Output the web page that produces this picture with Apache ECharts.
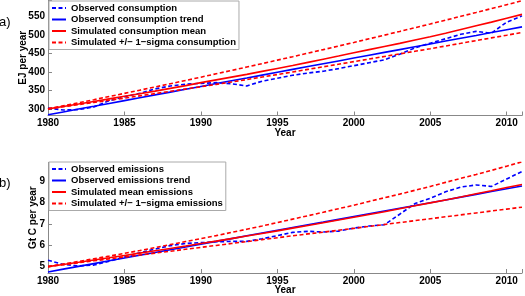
<!DOCTYPE html>
<html><head><meta charset="utf-8">
<script src="https://cdn.jsdelivr.net/npm/echarts@6/dist/echarts.min.js"></script>
<style>html,body{margin:0;padding:0;background:#fff}#c{width:525px;height:296px}</style>
</head><body><div id="c"></div>
<script>
const years = [1980,1981,1982,1983,1984,1985,1986,1987,1988,1989,1990,1991,1992,1993,1994,1995,1996,1997,1998,1999,2000,2001,2002,2003,2004,2005,2006,2007,2008,2009,2010,2011];
const xTicks = [1980,1985,1990,1995,2000,2005,2010];
const consTicks = [300,350,400,450,500,550];
const emisTicks = [5,6,7,8,9];

// a) energy consumption, EJ per year
const obsCons   = [302,297,298,305,322,333,342,354,362,367,369,371,368,362,375,383,391,397,402,409,417,425,433,448,465,478,490,502,510,505,535,552];
const trendCons = [284,291.7,299.4,307,314.7,322.4,330.1,337.8,345.4,353.1,360.8,368.5,376.2,383.8,391.5,399.2,406.9,414.6,422.2,429.9,437.6,445.3,453,460.6,468.3,476,483.7,491.4,499,506.7,514.4,522.1];
const simCons   = [300,306.5,313,320,327,334,341,348,355.5,363,371,378.5,386,393.5,401.5,409.5,417.5,426,434.5,443,452,460.5,469,477.5,486.5,495.5,505,515,525,535,545.5,556];
const simConsHi = [300,308.2,316.5,324.9,333.4,341.9,350.6,359.3,368.1,376.9,385.9,395,404.1,413.3,422.6,432,441.4,451,460.5,470.2,480,489.9,499.8,509.8,519.9,530.1,540.4,550.8,561.2,571.7,582.3,593];
const simConsLo = [300,305.8,311.6,317.4,323.2,329,335.2,341.4,347.6,353.8,360,366.4,372.8,379.4,386.2,393,400,407,414,421,428,435,442,449,456,463,470.3,477.6,485,492.3,499.6,507];

// b) emissions, Gt C per year
const obsEmis   = [5.3,5.1,5.03,5.07,5.25,5.45,5.65,5.82,5.98,6.08,6.12,6.16,6.18,6.18,6.3,6.45,6.6,6.65,6.62,6.66,6.8,6.9,6.96,7.45,7.95,8.2,8.5,8.72,8.82,8.75,9.1,9.45];
const trendEmis = [4.75,4.88,5.01,5.14,5.27,5.4,5.53,5.66,5.79,5.92,6.05,6.18,6.31,6.44,6.57,6.7,6.83,6.96,7.08,7.21,7.34,7.47,7.6,7.73,7.86,7.99,8.12,8.25,8.38,8.51,8.64,8.77];
const simEmis   = [5,5.1,5.2,5.31,5.41,5.52,5.63,5.74,5.85,5.96,6.08,6.19,6.31,6.43,6.55,6.67,6.8,6.92,7.05,7.18,7.31,7.44,7.57,7.71,7.85,7.98,8.12,8.26,8.41,8.55,8.7,8.84];
const simEmisHi = [5,5.12,5.24,5.365,5.49,5.62,5.75,5.89,6.03,6.17,6.31,6.45,6.6,6.75,6.9,7.06,7.22,7.38,7.54,7.71,7.87,8.05,8.22,8.39,8.57,8.75,8.94,9.13,9.31,9.5,9.7,9.9];
const simEmisLo = [5,5.09,5.18,5.27,5.36,5.45,5.54,5.63,5.72,5.81,5.9,5.99,6.08,6.17,6.26,6.35,6.44,6.53,6.61,6.7,6.79,6.88,6.97,7.06,7.15,7.24,7.33,7.42,7.51,7.6,7.69,7.78];

const FONT = "'Liberation Sans', Arial, sans-serif";
const BLUE = '#0000ff', RED = '#ff0000';
const pairs = arr => years.map((y,i)=>[y,arr[i]]);
const onTicks = list => v => list.some(t=>Math.abs(t-v)<1e-6) ? String(v) : '';

function xAxis(gi){
  return {type:'value', gridIndex:gi, min:1980, max:2011, interval:5,
    name:'Year', nameLocation:'middle', nameGap: gi===0?13:12, nameMoveOverlap:false,
    nameTextStyle:{fontFamily:FONT,fontWeight:'bold',fontSize:10,color:'#000'},
    axisLine:{lineStyle:{color:'#888',width:1}},
    axisTick:{inside:true,length:4,lineStyle:{color:'#888'}},
    axisLabel:{fontFamily:FONT,fontWeight:'bold',fontSize:10,color:'#000',margin:3,formatter:onTicks(xTicks)},
    splitLine:{show:false}};
}
function yAxis(gi,name,min,max,split,ticks,gap){
  return {type:'value', gridIndex:gi, min:min, max:max, splitNumber:split,
    name:name, nameLocation:'middle', nameGap:gap, nameRotate:90, nameMoveOverlap:false,
    nameTextStyle:{fontFamily:FONT,fontWeight:'bold',fontSize:10,color:'#000'},
    axisLine:{show:true,lineStyle:{color:'#888',width:1}},
    axisTick:{inside:true,length:4,lineStyle:{color:'#888'}},
    axisLabel:{fontFamily:FONT,fontWeight:'bold',fontSize:10,color:'#000',margin:3,formatter:onTicks(ticks)},
    splitLine:{show:false}};
}
function line(name,data,color,dashed,xi){
  return {type:'line', name:name, xAxisIndex:xi, yAxisIndex:xi, data:pairs(data),
    symbol:'none', showSymbol:false, silent:true,
    lineStyle:{color:color,width:1.6,type:dashed?[4,2.5]:'solid'},
    itemStyle:{color:color}};
}
function legend(top,names){
  return {orient:'vertical', left:49, top:top, padding:[2,3,2,2], itemWidth:14, itemHeight:8, itemGap:1.5,
    backgroundColor:'#fff', borderColor:'#aaa', borderWidth:1, selectedMode:false,
    itemStyle:{opacity:0},
    textStyle:{fontFamily:FONT,fontWeight:'bold',fontSize:9.5,color:'#000',lineHeight:10},
    data:names};
}
const L1 = ['Observed consumption','Observed consumption trend','Simulated consumption mean','Simulated +/\u2212 1\u2212sigma consumption'];
const L2 = ['Observed emissions','Observed emissions trend','Simulated mean emissions','Simulated +/\u2212 1\u2212sigma emissions'];

const chart = echarts.init(document.getElementById('c'), null, {renderer:'canvas'});
chart.setOption({
  animation:false,
  backgroundColor:'#fff',
  grid:[{left:48,right:0,top:0,height:115.5},{left:48,right:0,top:162.3,height:113.7}],
  xAxis:[xAxis(0),xAxis(1)],
  yAxis:[yAxis(0,'EJ per year',282,595,6,consTicks,20), yAxis(1,'Gt C per year',4.7,9.88,5,emisTicks,10)],
  legend:[legend(1,L1),legend(162,L2)],
  graphic:[
    {type:'text',left:-1,top:16,style:{text:'a)',font:'13px '+FONT,fill:'#000'}},
    {type:'text',left:-1,top:177,style:{text:'b)',font:'13px '+FONT,fill:'#000'}}
  ],
  series:[
    line(L1[0],obsCons,BLUE,true,0),
    line(L1[1],trendCons,BLUE,false,0),
    line(L1[2],simCons,RED,false,0),
    line(L1[3],simConsHi,RED,true,0),
    line(L1[3],simConsLo,RED,true,0),
    line(L2[0],obsEmis,BLUE,true,1),
    line(L2[1],trendEmis,BLUE,false,1),
    line(L2[2],simEmis,RED,false,1),
    line(L2[3],simEmisHi,RED,true,1),
    line(L2[3],simEmisLo,RED,true,1)
  ]
});
</script></body></html>
